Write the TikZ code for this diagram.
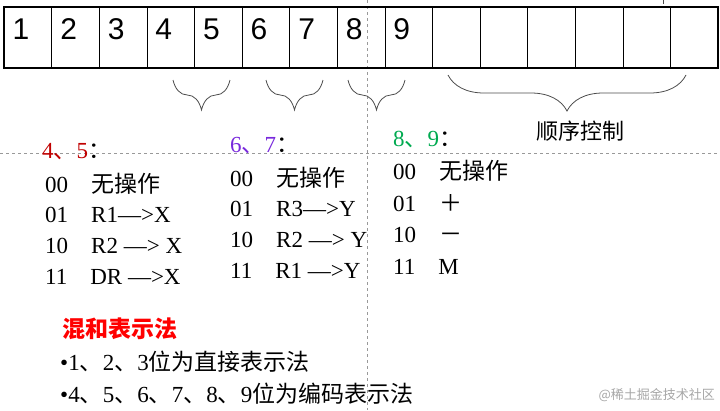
\documentclass[tikz,border=0pt]{standalone}
\usepackage{fontspec}
\setmainfont{Liberation Serif}
\newfontfamily\arial{Liberation Sans}
\newfontfamily\cjk{Noto Sans CJK SC}
\usetikzlibrary{decorations.pathreplacing}
\begin{document}
\begin{tikzpicture}[x=1pt,y=-1pt,
  txt/.style={anchor=west,inner sep=0pt,font=\fontsize{23}{25}\selectfont},
  num/.style={anchor=center,inner sep=0pt,font=\arial\fontsize{30}{32}\selectfont},
  brc/.style={draw=black!70,line width=0.8pt,decorate,decoration={brace,mirror,amplitude=#1}},
  guide/.style={draw=black!40,dashed,line width=0.4pt}]
\useasboundingbox (0,0) rectangle (720,410);
\draw[guide] (367,0) -- (367,410);
\draw[guide] (0,153) -- (720,153);
\draw[black!70,line width=0.6pt] (663,0) -- (663,4);
\foreach \i in {1,...,14}{\draw[line width=0.6pt] ({4+\i*47.6},7) -- ({4+\i*47.6},68);}
\draw[line width=1.6pt] (4,7) rectangle (718,68);
\foreach \i in {1,...,9}{\node[num] (n\i) at ({4+(\i-1)*47.6+17},29) {\i};}
\coordinate (b1a) at (173,80); \coordinate (b1b) at (230,80);
\coordinate (b2a) at (266,80); \coordinate (b2b) at (323,80);
\coordinate (b3a) at (348,80); \coordinate (b3b) at (405,80);
\coordinate (b4a) at (448,75); \coordinate (b4b) at (686,75);
\draw[brc=30pt] (b1a) -- (b1b);
\draw[brc=30pt] (b2a) -- (b2b);
\draw[brc=30pt] (b3a) -- (b3b);
\draw[brc=36pt] (b4a) -- (b4b);
\node[anchor=center,inner sep=0pt,font=\cjk\fontsize{22}{24}\selectfont] (lab) at (580,131) {顺序控制};
% column 1
\node[txt,text={rgb,255:red,192;green,0;blue,0}] (h1) at (42,152) {4\cjk、\rmfamily5\textcolor{black}{\cjk：}};
\node[txt] (a1) at (45,184) {00\quad{\cjk 无操作}};
\node[txt] (a2) at (45,215) {01\quad R1—>X};
\node[txt] (a3) at (45,246) {10\quad R2 —> X};
\node[txt] (a4) at (45,277) {11\quad DR —>X};
% column 2
\node[txt,text={rgb,255:red,120;green,40;blue,220}] (h2) at (230,146) {6\cjk、\rmfamily7\textcolor{black}{\cjk：}};
\node[txt] (c1) at (230,178) {00\quad{\cjk 无操作}};
\node[txt] (c2) at (230,209) {01\quad R3—>Y};
\node[txt] (c3) at (230,240) {10\quad R2 —> Y};
\node[txt] (c4) at (230,271) {11\quad R1 —>Y};
% column 3
\node[txt,text={rgb,255:red,0;green,170;blue,80}] (h3) at (393,139) {8\cjk、\rmfamily9\textcolor{black}{\cjk：}};
\node[txt] (d1) at (393,171) {00\quad{\cjk 无操作}};
\node[txt] (d2) at (393,203) {01\quad{\cjk ＋}};
\node[txt] (d3) at (393,235) {10\quad{\cjk －}};
\node[txt] (d4) at (393,267) {11\quad M};
% bottom
\node[txt,text=red,font=\cjk\bfseries\fontsize{23}{25}\selectfont] (m) at (62,329) {混和表示法};
\node[txt] (e1) at (60,362) {•1{\cjk 、}2{\cjk 、}3{\cjk 位为直接表示法}};
\node[txt] (e2) at (60,394) {•4{\cjk 、}5{\cjk 、}6{\cjk 、}7{\cjk 、}8{\cjk 、}9{\cjk 位为编码表示法}};
\node[anchor=east,inner sep=0pt,text=black!35,font=\cjk\fontsize{13}{15}\selectfont] (w) at (715,395) {@稀土掘金技术社区};
\end{tikzpicture}
\end{document}
